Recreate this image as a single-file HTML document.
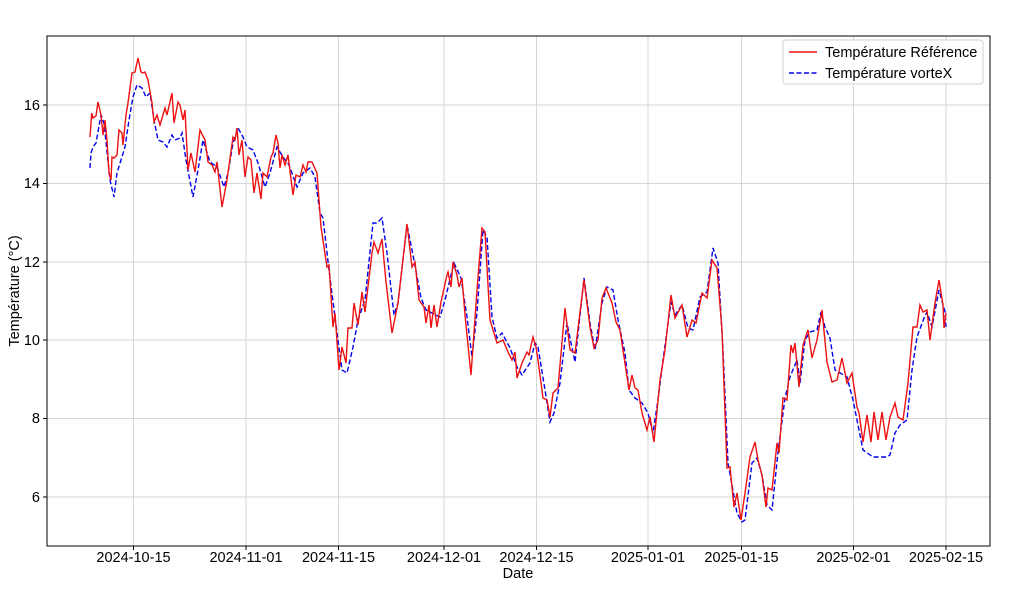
<!DOCTYPE html>
<html><head><meta charset="utf-8"><style>body{margin:0;background:#fff}svg{display:block}text{font-family:"Liberation Sans","DejaVu Sans",sans-serif;fill:#000}</style></head><body>
<svg width="1024" height="596" viewBox="0 0 1024 596">
<g stroke="#d6d6d6" stroke-width="1">
<line x1="133.5" y1="36" x2="133.5" y2="546"/><line x1="246" y1="36" x2="246" y2="546"/><line x1="338.5" y1="36" x2="338.5" y2="546"/><line x1="444" y1="36" x2="444" y2="546"/><line x1="536.5" y1="36" x2="536.5" y2="546"/><line x1="648" y1="36" x2="648" y2="546"/><line x1="741.5" y1="36" x2="741.5" y2="546"/><line x1="853.5" y1="36" x2="853.5" y2="546"/><line x1="946" y1="36" x2="946" y2="546"/>
<line x1="47" y1="105" x2="990" y2="105"/><line x1="47" y1="183.5" x2="990" y2="183.5"/><line x1="47" y1="262" x2="990" y2="262"/><line x1="47" y1="340" x2="990" y2="340"/><line x1="47" y1="418.5" x2="990" y2="418.5"/><line x1="47" y1="497" x2="990" y2="497"/>
</g>
<polyline fill="none" stroke="#0000ee" stroke-width="1.4" stroke-dasharray="5,2.5" points="90,168 91,153 93,147 96,143 101,115 104,123 110,180 114,197 117,173 121,160 125,147 129,120 133,97 137,85 142,88 146,97 150,93 154,120 158,140 163,142 167,147 172,135 175,140 180,138 182,133 186,160 193,197 198,170 203,140 210,162 217,167 224,187 228,173 233,143 238,128 243,137 247,147 253,150 258,163 265,187 270,173 277,147 283,157 289,165 297,187 303,173 310,168 315,177 320,213 323,218 329,270 337,333 342,370 347,373 353,347 358,320 365,300 373,223 377,223 382,218 387,253 394,315 398,303 407,225 413,255 421,298 426,310 432,313 440,317 445,300 454,263 461,278 467,317 472,357 477,313 483,230 487,237 492,317 497,338 502,333 510,348 517,367 522,375 530,363 535,343 538,347 545,390 550,422 554,413 560,383 567,323 571,343 575,362 584,278 590,323 595,350 602,303 607,287 613,290 618,320 625,353 629,390 635,398 642,403 648,413 653,433 658,400 663,360 671,302 675,315 682,305 688,328 693,330 700,297 707,292 713,248 718,263 723,350 728,463 737,513 742,522 745,520 752,463 757,458 762,475 767,505 772,510 778,452 785,398 790,377 797,360 800,383 805,340 810,332 817,330 821,312 825,327 830,338 835,370 840,373 847,377 853,400 863,450 873,457 887,457 890,455 895,433 900,425 907,420 912,370 917,337 924,318 927,312 932,327 939,290 945,312 946,327"/>
<polyline fill="none" stroke="#ee1111" stroke-width="1.4" points="90,137 91.7,113 93,118 96,116 98,102 101,115 103,135 105,120 107,140 109,173 111,180 112,157 114,158 117,155 119,130 122,133 123,145 126,115 128,103 132,73 135,72 138,58 141,72 143,73 145,72 148,80 152,103 154,122 157,115 160,125 165,108 167,115 172,93 174,123 178,102 180,105 183,120 185,110 188,170 191,153 195,172 200,130 205,140 208,162 212,165 215,172 217,162 222,207 227,180 233,137 235,140 237,128 239,155 242,140 245,177 248,157 251,160 254,193 257,173 261,199 263,173 267,177 271,157 273,153 276,135 278,143 280,168 282,155 285,165 288,155 293,195 296,175 300,177 303,165 306,172 308,162 312,162 317,173 321,227 327,267 329,265 333,327 335,313 339,370 342,347 346,363 348,328 352,328 354,303 358,325 362,292 365,312 372,253 374,242 378,253 382,239 386,282 392,333 398,303 407,224 412,267 415,262 419,300 424,307 426,323 429,305 431,328 434,305 437,327 441,302 447,275 448,272 451,287 453,262 457,275 459,287 462,278 465,315 471,375 477,290 482,228 485,232 490,320 497,343 503,340 508,352 512,360 515,352 517,378 522,363 527,352 529,355 533,337 536,347 538,360 543,398 547,400 550,417 553,393 558,388 565,308 570,350 575,353 584,280 590,327 594,348 598,340 602,298 606,288 612,303 616,322 620,330 623,350 629,390 632,375 635,388 638,390 642,413 647,430 650,417 654,442 660,380 665,350 671,295 675,318 682,305 687,337 692,320 696,323 702,293 707,298 712,260 717,268 722,330 727,468 730,467 734,507 737,493 741,520 745,493 750,457 755,442 758,460 762,475 766,507 768,488 772,490 777,443 779,453 783,398 787,400 791,345 793,353 795,343 799,387 803,345 808,330 812,358 817,340 822,310 827,362 832,382 837,380 842,358 847,383 852,373 857,407 859,413 863,442 867,415 871,442 874,412 878,440 882,412 886,440 890,417 895,403 898,417 903,420 908,383 913,327 917,327 920,305 923,312 927,310 930,340 935,303 939,280 943,305 944,328 946,313"/>
<rect x="47" y="36" width="943" height="510" fill="none" stroke="#000" stroke-width="1"/>
<g stroke="#000"><line x1="133.5" y1="546" x2="133.5" y2="550"/><line x1="246" y1="546" x2="246" y2="550"/><line x1="338.5" y1="546" x2="338.5" y2="550"/><line x1="444" y1="546" x2="444" y2="550"/><line x1="536.5" y1="546" x2="536.5" y2="550"/><line x1="648" y1="546" x2="648" y2="550"/><line x1="741.5" y1="546" x2="741.5" y2="550"/><line x1="853.5" y1="546" x2="853.5" y2="550"/><line x1="946" y1="546" x2="946" y2="550"/>
<line x1="43" y1="105" x2="47" y2="105"/><line x1="43" y1="183.5" x2="47" y2="183.5"/><line x1="43" y1="262" x2="47" y2="262"/><line x1="43" y1="340" x2="47" y2="340"/><line x1="43" y1="418.5" x2="47" y2="418.5"/><line x1="43" y1="497" x2="47" y2="497"/></g>
<g font-size="14.5" text-anchor="middle">
<text x="133.5" y="562">2024-10-15</text><text x="246" y="562">2024-11-01</text><text x="338.5" y="562">2024-11-15</text><text x="444" y="562">2024-12-01</text><text x="536.5" y="562">2024-12-15</text><text x="648" y="562">2025-01-01</text><text x="741.5" y="562">2025-01-15</text><text x="853.5" y="562">2025-02-01</text><text x="946" y="562">2025-02-15</text>
<text x="518" y="578">Date</text>
</g>
<g font-size="14.5" text-anchor="end">
<text x="40" y="110">16</text><text x="40" y="188">14</text><text x="40" y="267">12</text><text x="40" y="345">10</text><text x="40" y="423">8</text><text x="40" y="502">6</text>
</g>
<text x="19" y="291" font-size="14.5" text-anchor="middle" transform="rotate(-90 19 291)">Température (°C)</text>
<rect x="783" y="40" width="200" height="44" rx="3" fill="#fff" stroke="#d0d0d0"/>
<line x1="789" y1="52" x2="817" y2="52" stroke="#ee1111" stroke-width="1.4"/>
<line x1="789" y1="73" x2="817" y2="73" stroke="#0000ee" stroke-width="1.4" stroke-dasharray="5,2.5"/>
<text x="825" y="57" font-size="14.5">Température Référence</text>
<text x="825" y="78" font-size="14.5">Température vorteX</text>
</svg>
</body></html>
